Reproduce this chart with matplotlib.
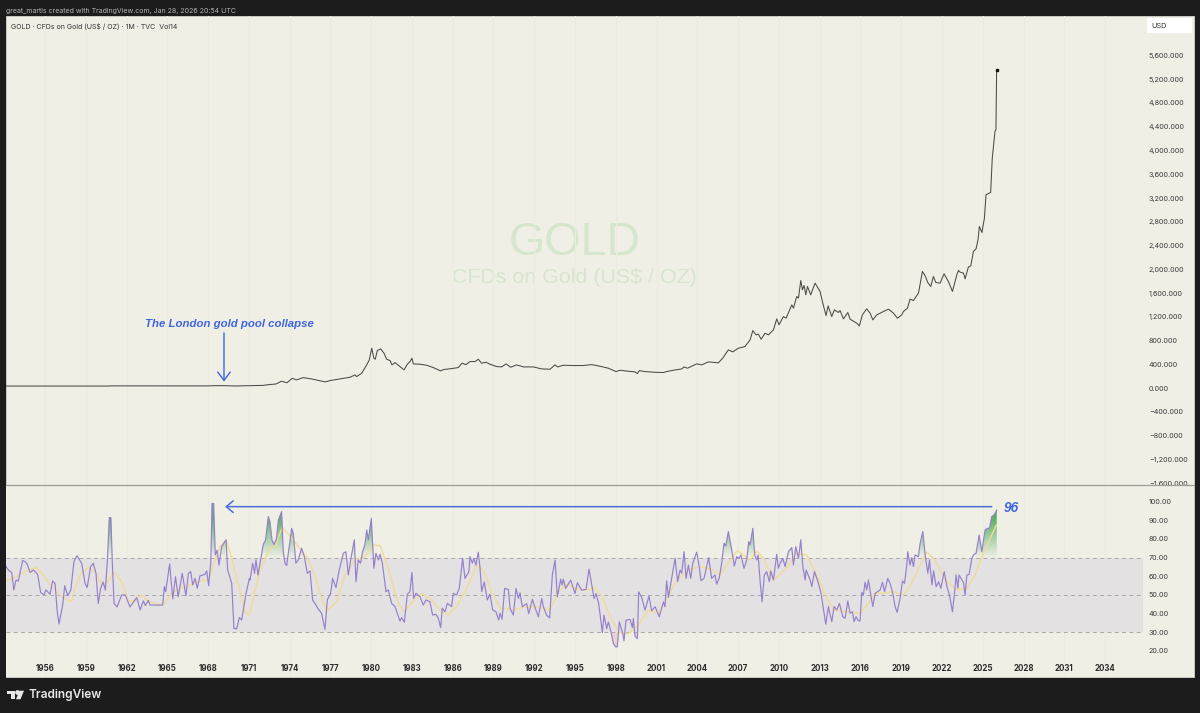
import numpy as np
import matplotlib
matplotlib.use("Agg")
import matplotlib.pyplot as plt
from matplotlib.patches import Rectangle, FancyBboxPatch, Polygon
from matplotlib.path import Path

W, H = 1200, 713

price_years = [1953.13, 1960.7, 1961, 1968, 1968.3, 1969, 1970, 1971, 1972.04, 1972.3, 1973, 1973.4, 1973.8,
               1974.2, 1974.5, 1975, 1975.6, 1976.6, 1976.97, 1977.7, 1978.44, 1978.81, 1978.93, 1979.3,
               1979.67, 1979.86, 1980.04, 1980.2, 1980.3, 1980.45, 1980.7, 1980.94, 1981.14, 1981.39, 1981.53,
               1981.75, 1982.12, 1982.42, 1982.66, 1982.86, 1983, 1983.1, 1983.59, 1984.08, 1984.57, 1985.11,
               1985.31, 1985.92, 1986.41, 1986.68, 1986.98, 1987.27, 1987.64, 1987.88, 1988.13, 1988.45,
               1988.74, 1989.23, 1989.6, 1989.92, 1990.26, 1990.7, 1991.2, 1991.93, 1992.55, 1993.16, 1993.53,
               1993.72, 1994.14, 1994.87, 1995.61, 1996.22, 1996.84, 1997.45, 1998.02, 1998.31, 1998.92,
               1999.41, 1999.58, 1999.73, 2000.15, 2000.88, 2001.5, 2001.74, 2002.23, 2002.85, 2003.02,
               2003.27, 2003.95, 2004.32, 2004.81, 2005.54, 2005.86, 2006.28, 2006.6, 2007.0, 2007.5,
               2007.88, 2008.08, 2008.32, 2008.49, 2008.69, 2008.98, 2009.23, 2009.6, 2009.84, 2010.01,
               2010.33, 2010.53, 2010.95, 2011.07, 2011.31, 2011.44, 2011.61, 2011.73, 2011.85, 2011.98,
               2012.1, 2012.34, 2012.66, 2013.03, 2013.23, 2013.47, 2013.62, 2013.89, 2014.08, 2014.38,
               2014.5, 2014.75, 2015.07, 2015.24, 2015.53, 2015.73, 2015.92, 2016.14, 2016.46, 2016.71,
               2016.91, 2017.2, 2017.69, 2018.06, 2018.43, 2018.72, 2019.04, 2019.16, 2019.46, 2019.65,
               2019.9, 2020.27, 2020.56, 2020.76, 2020.95, 2021.17, 2021.37, 2021.54, 2021.86, 2022.15,
               2022.47, 2022.77, 2023.09, 2023.21, 2023.33, 2023.58, 2023.7, 2023.94, 2024.12, 2024.31,
               2024.51, 2024.65, 2024.75, 2024.94, 2025.12, 2025.24, 2025.58, 2025.7, 2025.9, 2025.97, 2026.02]
price_vals = [35, 35, 38, 37, 40, 42, 36, 40, 46, 54, 70, 116, 90,
              166, 138, 177, 155, 105, 127, 155, 183, 222, 194, 250,
              391, 475, 672, 503, 486, 633, 661, 588, 486, 464, 391,
              430, 363, 307, 402, 447, 503, 408, 402, 385, 346, 290,
              312, 329, 346, 419, 396, 447, 447, 486, 419, 436,
              402, 363, 357, 408, 352, 391, 357, 357, 323, 318, 391,
              357, 385, 380, 380, 396, 368, 335, 278, 301, 284,
              273, 245, 295, 278, 267, 262, 278, 301, 323, 357,
              335, 408, 391, 442, 425, 503, 644, 610, 670, 700,
              812, 969, 896, 908, 823, 924, 896, 981, 1166, 1065,
              1205, 1177, 1402, 1346, 1543, 1515, 1812, 1655, 1728, 1571,
              1711, 1571, 1767, 1627, 1430, 1222, 1385, 1205, 1318, 1273,
              1307, 1166, 1273, 1160, 1121, 1093, 1048, 1233, 1335, 1262,
              1149, 1233, 1290, 1329, 1262, 1177, 1233, 1290, 1346, 1498,
              1475, 1599, 1964, 1891, 1779, 1711, 1880, 1779, 1767, 1925,
              1795, 1627, 1908, 1981, 1953, 1936, 1840, 2037, 2060, 2301,
              2346, 2497, 2721, 2620, 2862, 3255, 3295, 3874, 4323, 4351, 5363]

rsi_years = [1953.13, 1953.3, 1953.55, 1953.7, 1953.87, 1954.04, 1954.2, 1954.36, 1954.53, 1954.7, 1954.9, 1955.15,
             1955.46, 1955.68, 1955.93, 1956.07, 1956.37, 1956.56, 1956.74, 1956.9, 1957.03, 1957.3, 1957.45,
             1957.67, 1957.9, 1958.13, 1958.35, 1958.7, 1958.95, 1959.1, 1959.36, 1959.55, 1959.75, 1959.92,
             1960.1, 1960.27, 1960.44, 1960.6, 1960.73, 1960.85, 1960.95, 1961.08, 1961.3, 1961.64, 1961.9,
             1962.25, 1962.75, 1963, 1963.24, 1963.38, 1963.6, 1963.73, 1964.66, 1964.78, 1964.88, 1965.17,
             1965.4, 1965.6, 1965.8, 1966.1, 1966.37, 1966.55, 1966.72, 1966.87, 1967.04, 1967.2, 1967.4,
             1967.77, 1967.9, 1968.04, 1968.2, 1968.29, 1968.41, 1968.53, 1968.66, 1968.8, 1969, 1969.32,
             1969.44, 1969.74, 1969.9, 1970.1, 1970.3, 1970.47, 1970.77, 1971.04,
             1971.08, 1971.28, 1971.42, 1971.52, 1971.67, 1971.86, 1972.06, 1972.23, 1972.43, 1972.55, 1972.7,
             1972.85, 1973.04, 1973.17, 1973.41, 1973.53, 1973.66, 1973.78, 1973.97, 1974.15, 1974.27, 1974.46,
             1974.64, 1974.88, 1975.08, 1975.3, 1975.5, 1975.69, 1975.94, 1976.06, 1976.35, 1976.6, 1976.77,
             1977.02, 1977.16, 1977.41, 1977.65, 1977.95, 1978.14, 1978.32, 1978.51, 1978.76, 1978.88, 1979.05,
             1979.22, 1979.37, 1979.54, 1979.67, 1979.79, 1980.01, 1980.2, 1980.35, 1980.52, 1980.65, 1980.82,
             1981.09, 1981.26, 1981.5, 1981.75, 1982.12, 1982.24, 1982.44, 1982.66, 1982.85, 1983, 1983.12,
             1983.3, 1983.59, 1983.83, 1984.03, 1984.32, 1984.52, 1984.77, 1984.94, 1985.11, 1985.23, 1985.43,
             1985.6, 1985.92, 1986.04, 1986.29, 1986.48, 1986.73, 1986.9, 1987.19, 1987.27, 1987.44, 1987.56,
             1987.71, 1987.88, 1988, 1988.13, 1988.32, 1988.54, 1988.74, 1988.94, 1989.18, 1989.38, 1989.48,
             1989.63, 1989.82, 1990.09, 1990.22, 1990.46, 1990.66, 1990.83, 1990.95, 1991.12, 1991.44, 1991.59,
             1991.86, 1992.08, 1992.3, 1992.55, 1992.67, 1992.91, 1993.13, 1993.33, 1993.53, 1993.7, 1993.94,
             1994.04, 1994.14, 1994.31, 1994.68, 1995, 1995.17, 1995.49, 1995.81, 1996.03, 1996.23, 1996.4,
             1996.54, 1996.74, 1997.01, 1997.13, 1997.33, 1997.45, 1997.65, 1997.82, 1997.99, 1998.11, 1998.26,
             1998.51, 1998.6, 1998.75, 1999.05, 1999.22, 1999.29, 1999.41, 1999.59, 1999.68, 1999.9, 2000.15,
             2000.44, 2000.64, 2000.89, 2001.2, 2001.5, 2001.62, 2001.74, 2001.87, 2002.11, 2002.36, 2002.55,
             2002.73, 2002.85, 2003.02, 2003.17, 2003.34, 2003.51, 2003.66, 2003.95, 2004.12, 2004.27, 2004.49,
             2004.83, 2005.05, 2005.3, 2005.42, 2005.6, 2005.79, 2005.96, 2006.09, 2006.28, 2006.53, 2006.72,
             2006.9, 2007.09, 2007.21, 2007.43, 2007.63, 2007.78, 2007.88,
             2008.08, 2008.22, 2008.37, 2008.47, 2008.62, 2008.76, 2008.93, 2009.1, 2009.3, 2009.4, 2009.6,
             2009.84, 2009.96, 2010.09, 2010.28, 2010.46, 2010.7, 2010.95, 2011.07, 2011.24, 2011.44, 2011.61,
             2011.76, 2011.93, 2012, 2012.3, 2012.42, 2012.62, 2012.91, 2013.1, 2013.23, 2013.45, 2013.64,
             2013.89, 2014.06, 2014.26, 2014.45, 2014.7, 2014.87, 2015.07, 2015.24, 2015.41, 2015.53, 2015.68,
             2015.8, 2015.97, 2016.1, 2016.22, 2016.34, 2016.46, 2016.59, 2016.76, 2016.91, 2017.08, 2017.45,
             2017.62, 2017.77, 2018.01, 2018.18, 2018.38, 2018.55, 2018.7, 2018.92, 2019.09, 2019.24, 2019.41,
             2019.48, 2019.65, 2019.77, 2019.9, 2020.02, 2020.26, 2020.39, 2020.59, 2020.76, 2020.96, 2021.08,
             2021.26, 2021.38, 2021.57, 2021.75, 2021.92, 2022.16, 2022.36, 2022.55, 2022.77, 2022.92, 2023.04,
             2023.17, 2023.26, 2023.46, 2023.58, 2023.7, 2023.83, 2024, 2024.19, 2024.36, 2024.51, 2024.73,
             2024.93, 2025.17, 2025.35, 2025.49, 2025.66, 2025.83, 2026.03]
rsi_vals = [65.2, 63.4, 62, 52.7, 58, 57.5, 63.4, 68.4, 67.9, 66.4, 62, 63.4,
            61, 51.3, 50, 52.7, 50.4, 57.5, 56.2, 41, 34.5, 44.6, 55,
            49.6, 52.7, 67.9, 71, 67, 56.2, 54, 65.2, 67, 61.6, 45.5,
            53.6, 57, 52.7, 69.6, 91.4, 91.4, 67.9, 45.5, 43.6, 50, 50,
            43.6, 48.6, 42, 46.8, 44.3, 47.1, 44.6, 44.6, 54.5, 51.8, 66.6,
            47.9, 59.8, 49.1, 61.6, 49.6, 61.6, 62.5, 55.4, 58.9, 53.6, 60.2,
            61, 62.9, 55, 67.9, 99, 99, 71.4, 74, 66, 75.9, 79.5,
            63.4, 56.2, 32.1, 31.8, 37.9, 36.6, 50, 58.9,
            58, 67, 61.6, 68.8, 60.7, 68.8, 77.1, 79.5, 92, 89.3, 79.5,
            77, 80.4, 90.2, 94.6, 73.2, 67, 65.7, 75.9, 85.7, 83, 67,
            68.8, 75, 70.5, 61.6, 62.9, 47.3, 44.6, 42.9, 40.2, 31.6, 47.3,
            50.9, 58.9, 54, 63.4, 72.3, 73.2, 60.7, 69.6, 79.5, 57.1, 68.8,
            67, 73.2, 76.8, 84.8, 79.5, 91, 64.3, 72.3, 68.8, 71.8, 67,
            51.8, 52.7, 45.5, 43.8, 36, 37.9, 35.4, 50.4, 51.8, 62.1, 48.2,
            50.9, 49.1, 44.6, 47.3, 46.4, 39.3, 39.6, 37.5, 32.5, 42.9, 41,
            45.5, 43.8, 50.9, 50, 53.6, 69.6, 58.9, 62.5, 70.5, 67, 69.6,
            66, 72.9, 65.2, 51.8, 57, 47.3, 50.4, 42, 41, 36.6, 40.2,
            37, 53.5, 53, 42.8, 39.2, 53.5, 48.1, 51.2, 43.7, 45.4, 40,
            47.6, 42.8, 38.3, 48.1, 43.7, 39.2, 37.7, 60.7, 68.7, 49, 58.4,
            55.3, 58.4, 53.5, 58, 50.8, 56.6, 52.6, 53, 63.9, 55.3, 48.1,
            50.8, 45.4, 29.9, 39.2, 32, 35.6, 30.2, 23.9, 22.2, 22.2, 35.6,
            29.3, 25.4, 36.5, 36.9, 32.5, 37.4, 27.9, 26.6, 51.7, 48.7, 41.9,
            49.4, 41.5, 43.7, 38.3, 46.3, 43.7, 57.6, 48.7, 58.9, 69.6, 57.1,
            63.4, 61.6, 73.2, 58.9, 66, 58.9, 67, 72.9, 66, 57.6, 58.9,
            70, 58.9, 60.7, 55.8, 58.9, 67, 77.7, 76.3, 84, 74.1, 65.5,
            70.5, 69.6, 71.4, 64.3, 68.7, 78.6, 76.8,
            85.7, 71.4, 68.8, 71.4, 57.1, 46.4, 60.7, 62.5, 57.1, 62.9, 58,
            71.8, 64.3, 67, 69.6, 65.2, 73.2, 75.4, 66, 75.9, 69.6, 79.5,
            65.2, 58, 63.4, 58, 54.5, 62.5, 56.2, 50.9, 44.6, 34.3, 43.8,
            35.7, 43.8, 42, 45.5, 38.4, 37.5, 46.8, 40.2, 41, 35.7, 38.4,
            36.6, 36, 51.4, 50, 56.8, 52.7, 58, 50, 43.8, 50.9, 52.7,
            56.8, 51.8, 58.9, 56.2, 50.9, 43.8, 40.7, 48.2, 57.5, 56.2, 66,
            73.2, 66, 70, 65.2, 71.4, 70.5, 77.7, 84, 71.4, 61.6, 68.8,
            55.4, 62.9, 54.5, 57.1, 53.6, 62.5, 54.5, 50, 41, 50.9, 60.7,
            53.6, 60.7, 58, 56.8, 50, 60.7, 61, 69.6, 71.8, 72.3, 82.1,
            73.2, 84.8, 85.7, 85.7, 92, 92.9, 95.5]

ma_years = [1953.13, 1953.9, 1954.65, 1955.39, 1955.88, 1956.49, 1957.23, 1957.96, 1958.28, 1958.7, 1959.19, 1959.68,
            1960.17, 1960.59, 1961.08, 1961.64, 1962.13, 1962.62, 1963.11, 1963.6, 1964.22, 1964.71, 1965.32,
            1966.06, 1966.79, 1967.4, 1968.02, 1968.39, 1968.88, 1969.32, 1969.74, 1970.23, 1970.72, 1970.96,
            1971.08, 1971.82, 1972.55, 1972.92, 1973.46, 1974.15, 1975.25, 1975.86, 1976.35, 1976.77, 1977.46,
            1978.07, 1978.81, 1979.54, 1980.2, 1980.65, 1981.26, 1981.87, 1982.36, 1982.98, 1983.71, 1984.45,
            1985.06, 1985.67, 1986.29, 1987.02, 1987.76, 1988.25, 1988.86, 1989.48, 1989.97, 1990.46, 1991.32,
            1992.18, 1993.16, 1993.77, 1994.39, 1995.24, 1995.98, 1996.47, 1997.08, 1997.7, 1998.31, 1998.92,
            1999.66, 2000.4, 2001.13, 2001.74, 2002.48, 2003.34, 2004.2, 2005.18, 2005.67, 2006.28, 2006.95,
            2007.39, 2007.88, 2008.37, 2008.86, 2009.6, 2010.58, 2011.31, 2012.05, 2012.79, 2013.4, 2014.01,
            2014.99, 2015.97, 2016.59, 2017.08, 2017.69, 2018.43, 2019.16, 2019.77, 2020.39, 2020.88, 2021.49,
            2022.23, 2023.09, 2023.83, 2024.44, 2025.05, 2025.55, 2026]
ma_vals = [57.5, 59.8, 62.9, 64.6, 60.7, 54.5, 49.1, 46.4, 55.4, 62, 64.8, 62.5,
           55.4, 56.8, 62.1, 57.1, 46.8, 46.8, 50, 46.8, 45, 45, 50.9,
           53.9, 55.7, 57.5, 58, 66, 75.9, 79.5, 69.6, 55.4, 41, 39.3,
           41, 63.4, 75, 75.9, 86.3, 80.4, 70.5, 60.7, 48.2, 41.4, 46.4,
           60.7, 68.8, 70.5, 76.8, 76.4, 64.3, 48.2, 41, 45.5, 50.9, 47.3,
           42, 39.3, 43.8, 53.6, 65.7, 63.4, 51.8, 42.9, 42.8, 41.9, 43.7,
           43.7, 41.9, 51.7, 55.8, 53, 52.6, 54, 48.1, 36.5, 29.7, 29.3,
           33.8, 41.9, 40, 48.1, 58, 63.4, 65.2, 63.4, 60.7, 67, 73.8,
           71.4, 68.7, 73.6, 69.6, 58, 64.3, 72.3, 71.4, 60.7, 50, 42,
           41, 40.2, 45.5, 50.9, 50.9, 51.8, 50, 56.2, 66, 72.9, 68.8,
           58, 52.7, 53.6, 60.7, 72.3, 80.4, 87.5]

year_ticks = list(range(1956, 2035, 3))
price_ticks = list(range(-1600, 5601, 400))
rsi_ticks = list(range(20, 101, 10))
rsi_levels = [70, 50, 30]
rsi_peak_label = "96"
note_text = "The London gold pool collapse"

BG = "#1c1c1c"
PANEL = "#f0efe6"
GRID = "#ebebe1"
TXT = "#3a3a3a"
BLUE = "#3f66e0"
WATERMARK = "#d6e6cc"
plt.rcParams["font.family"] = ["Inter", "Liberation Sans", "DejaVu Sans"]


def rect_px(x0, y0, x1, y1):
    # pixels from top-left -> figure fraction [l, b, w, h]
    return [x0 / W, 1 - y1 / H, (x1 - x0) / W, (y1 - y0) / H]


def px(x, y):
    return x / W, 1 - y / H


def fmt_price(v):
    s = f"{abs(v):,.3f}"
    return ("\u2212" + s) if v < 0 else s


fig = plt.figure(figsize=(W / 100, H / 100), dpi=100, facecolor=BG)
ft = fig.transFigure

l, b, w, h = rect_px(6, 15.5, 1194, 677)
fig.patches.append(Rectangle((l, b), w, h, transform=ft, fc=PANEL, ec="#c9c9c2", lw=0.7, zorder=-2))
# covers the bottom of the last price label, as the pane border does
l, b, w, h = rect_px(6, 485, 1194, 677)
fig.patches.append(Rectangle((l, b), w, h, transform=ft, fc=PANEL, ec="none", zorder=0.5))

xlim = (1953.13, 2036.79)

ax = fig.add_axes(rect_px(6, 15.5, 1143, 485), facecolor="none", zorder=0)
ax.set_xlim(xlim)
ax.set_ylim(-1631, 6273)
ax.plot(price_years, price_vals, color="#4a4a48", lw=0.75, solid_joinstyle="round")
ax.plot(price_years[-1], price_vals[-1], "s", color="#111111", ms=1.6)
ax.set_xticks(year_ticks)
ax.set_xticklabels([])
ax.grid(axis="x", color=GRID, lw=0.8)
ax.set_axisbelow(True)
ax.yaxis.tick_right()
ax.set_yticks(price_ticks)
ax.set_yticklabels([fmt_price(v) for v in price_ticks], fontsize=5.2, color=TXT)
ax.tick_params(length=0, pad=4.2)
for s in ax.spines.values():
    s.set_visible(False)

ax.annotate("", xy=(1969.17, 110), xytext=(1969.17, 930),
            arrowprops=dict(arrowstyle="->,head_length=0.6,head_width=0.45", color=BLUE, lw=1.0,
                            shrinkA=0, shrinkB=0))
ax.text(1969.6, 1085, note_text, color=BLUE, fontsize=8.2, fontweight="bold", fontstyle="italic",
        family="Liberation Sans", ha="center", va="center")

fig.text(*px(574.5, 243), "GOLD", color=WATERMARK, fontsize=33.5,
         family="Liberation Sans", ha="center", va="center", zorder=-1)
fig.text(*px(574.5, 278), "CFDs on Gold (US$ / OZ)", color=WATERMARK, fontsize=15.4,
         family="Liberation Sans", ha="center", va="center", zorder=-1)

ax2 = fig.add_axes(rect_px(6, 485, 1143, 677), facecolor="none", zorder=1)
ax2.axhspan(30, 70, color="#e4e1e3", lw=0, zorder=1)
for lv in rsi_levels:
    ax2.axhline(lv, color="#aaa8a8", lw=0.7, ls=(0, (4, 3.5)), zorder=2)

rsi_x = np.array(rsi_years)
rsi_y = np.array(rsi_vals)
area = ax2.fill_between(rsi_x, rsi_y, 70, where=rsi_y > 70, interpolate=True, facecolor="none", lw=0)
fade = np.linspace(0, 1, 120)
rgba = np.zeros((120, 1, 4))
rgba[..., 0] = 0.28
rgba[..., 1] = 0.66
rgba[..., 2] = 0.33
rgba[..., 3] = np.clip(fade * 1.25, 0, 0.9).reshape(-1, 1)
im = ax2.imshow(rgba, extent=[xlim[0], xlim[1], 70, 100], origin="lower", aspect="auto", zorder=3)
im.set_clip_path(Path.make_compound_path(*area.get_paths()), transform=ax2.transData)
ax2.fill_between(rsi_x, rsi_y, 30, where=rsi_y < 30, interpolate=True, color="#e8b4b4", alpha=0.45, lw=0, zorder=3)

ax2.plot(ma_years, ma_vals, color="#eedc98", lw=1.05, zorder=4)
ax2.plot(rsi_x, rsi_y, color="#9580cc", lw=0.85, zorder=5)

ax2.set_xlim(xlim)
ax2.set_ylim(6.07, 108.9)
ax2.set_xticks(year_ticks)
ax2.set_xticklabels([str(y) for y in year_ticks], fontsize=5.7, color="#2c2c2c", fontweight="bold")
ax2.grid(axis="x", color=GRID, lw=0.8, zorder=0)
ax2.set_axisbelow(True)
ax2.yaxis.tick_right()
ax2.set_yticks(rsi_ticks)
ax2.set_yticklabels([f"{v:.2f}" for v in rsi_ticks], fontsize=5.2, color=TXT)
ax2.tick_params(axis="y", length=0, pad=4.2)
ax2.tick_params(axis="x", length=0, pad=-9.5)
for s in ax2.spines.values():
    s.set_visible(False)

ax2.annotate("", xy=(1969.25, 97.3), xytext=(2025.66, 97.3),
             arrowprops=dict(arrowstyle="->,head_length=0.5,head_width=0.42", color="#4a6fd8", lw=1.1,
                             shrinkA=0, shrinkB=0), zorder=6)
ax2.text(2027.1, 96.4, rsi_peak_label, color=BLUE, fontsize=9.8, fontweight="bold", fontstyle="italic",
         family="Liberation Sans", ha="center", va="center", zorder=6)

# divider between the panes
l, b, w, h = rect_px(6, 485, 1194, 485)
fig.add_artist(plt.Line2D([l, l + w], [b, b], transform=ft, color="#9e9e98", lw=0.9, zorder=2))

fig.text(*px(6, 10.5), "great_martis created with TradingView.com, Jan 28, 2026 20:54 UTC", color="#b4b4b4",
         fontsize=5.05, ha="left", va="center")
fig.text(*px(10.5, 26), "GOLD \u00b7 CFDs on Gold (US$ / OZ) \u00b7 1M \u00b7 TVC  Vol14", color="#333333",
         fontsize=5.05, ha="left", va="center")

x0, y1 = px(1147, 33)
x1, y0 = px(1191.5, 18)
fig.patches.append(FancyBboxPatch((x0, y1), x1 - x0, y0 - y1, transform=ft, boxstyle="square,pad=0",
                                  fc="white", ec="none", zorder=3))
fig.text(*px(1151.5, 25.8), "USD", color="#333333", fontsize=5.3, ha="left", va="center", zorder=4)

# TradingView logo
logo = [[(7.3, 690.7), (15, 690.7), (15, 699.3), (11, 699.3), (11, 694), (7.3, 694)],
        [(24, 690.7), (20.5, 699.3), (16, 699.3), (19.4, 690.7)]]
for pts in logo:
    fig.patches.append(Polygon([px(*p) for p in pts], closed=True, transform=ft, fc="#e8e8e8", ec="none", zorder=3))
cx, cy = px(17.3, 692.4)
fig.add_artist(plt.Line2D([cx], [cy], marker="o", ms=2.4, color="#e8e8e8", transform=ft, zorder=3))
fig.text(*px(28.5, 695.3), "TradingView", color="#e8e8e8", fontsize=8.6, fontweight="semibold",
         family="Inter", ha="left", va="center")

fig.savefig("out.png", dpi=100, facecolor=BG)
